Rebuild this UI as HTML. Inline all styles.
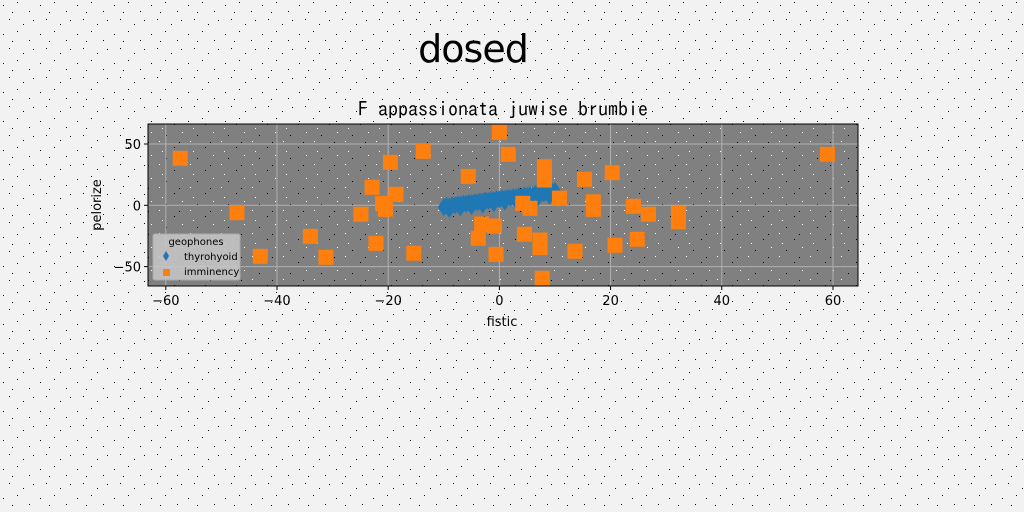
<!DOCTYPE html>
<html><head><meta charset="utf-8"><style>
body{margin:0;width:1024px;height:512px;background:#f2f2f2;overflow:hidden}
svg{display:block}
</style></head><body>
<svg id="chart" width="1024" height="512" xmlns="http://www.w3.org/2000/svg">
<defs>
<pattern id="noise" width="37" height="29" patternUnits="userSpaceOnUse">
<rect x="3" y="5" width="1" height="1" fill="#000"/><rect x="17" y="2" width="1" height="1" fill="#000"/><rect x="29" y="11" width="1" height="1" fill="#000"/><rect x="9" y="19" width="1" height="1" fill="#000"/><rect x="23" y="24" width="1" height="1" fill="#000"/><rect x="33" y="20" width="1" height="1" fill="#000"/><rect x="12" y="12" width="1" height="1" fill="#000"/>
</pattern>
<pattern id="noise2" width="31" height="23" patternUnits="userSpaceOnUse">
<rect x="4" y="3" width="1" height="1" fill="#fff"/><rect x="19" y="9" width="1" height="1" fill="#000"/><rect x="27" y="17" width="1" height="1" fill="#fff"/><rect x="11" y="20" width="1" height="1" fill="#000"/><rect x="24" y="4" width="1" height="1" fill="#000"/><rect x="7" y="13" width="1" height="1" fill="#fff"/>
</pattern>
</defs>
<rect width="1024" height="512" fill="url(#noise)"/>
<text x="473" y="62" font-size="38" text-anchor="middle" font-family="'DejaVu Sans', sans-serif" letter-spacing="-1">dosed</text>
<text x="503" y="116" font-size="20" text-anchor="middle" font-family="'IPAGothic','DejaVu Sans Mono',monospace">F appassionata juwise brumbie</text>
<g id="plot"></g>
</svg>
<script>
const sqX=[-57.4,-47.2,-43.0,-34.0,-31.2,-24.9,-22.9,-22.2,-21,-20.5,-19.6,-18.6,-15.4,-13.7,-5.6,-3.2,-3.8,-0.9,-0.6,0,1.6,8.1,8.1,4.2,5.5,10.8,15.3,20.3,16.9,16.9,24.1,26.8,32.2,32.2,59,4.5,7.3,7.3,13.6,20.8,24.8,7.7];
const sqY=[38.3,-6,-41.6,-25.3,-42.4,-7.3,14.7,-31.0,1.6,-3.3,35,9,-39.1,44,23.6,-15.2,-26.9,-16.9,-40,59.5,41.6,31.5,20.6,1.6,-2.4,5.9,21.2,26.6,2.9,-3.3,-0.8,-7.3,-6.5,-13.4,41.6,-23.6,-28.3,-34.5,-37.5,-32.6,-27.7,-59.5];
const dX=[-10,-9.5,-9,-8.5,-8,-7.5,-7,-6.5,-6,-5.5,-5,-4.5,-4,-3.5,-3,-2.5,-2,-1.5,-1,-0.5,0,0.5,1,1.5,2,2.5,3,3.5,4,4.5,5,5.5,6,6.5,7,7.5,8,8.5,9,9.5,10,-9,-7,-5,-3,-1,1,3,5,7,9];
const dY=[-1.5,-0.5,-1,0.2,0,0.8,0.6,1.5,1.2,2,1.8,2.6,2.4,3.2,3,3.8,3.6,4.4,4.2,5,4.8,5.6,5.4,6.2,6,6.8,6.6,7.4,7.2,8,7.8,8.6,8.4,9.2,9,9.8,9.6,10.6,10.4,11.4,11.8,-3,-1.8,-0.6,0.6,1.8,3,4.2,5.4,6.6,7.8];
const xTicks=[-60,-40,-20,0,20,40,60];
const yTicks=[-50,0,50];
const L=148,T=124,R=858,B=286;
const xmin=-63.2,xmax=64.5,ymin=-65.8,ymax=66.3;
const sx=v=>L+(v-xmin)/(xmax-xmin)*(R-L);
const sy=v=>B-(v-ymin)/(ymax-ymin)*(B-T);
const NS='http://www.w3.org/2000/svg';
const g=document.getElementById('plot');
function mk(t,a){const e=document.createElementNS(NS,t);for(const k in a)e.setAttribute(k,a[k]);g.appendChild(e);return e;}
let e=mk('rect',{x:L,y:T,width:R-L,height:B-T,fill:'#808080'});


e=mk('rect',{x:L,y:T,width:R-L,height:B-T,fill:'url(#noise2)'});


xTicks.forEach(t=>{const x=sx(t);
 e=mk('line',{x1:x,x2:x,y1:T,y2:B,stroke:'#b0b0b0','stroke-width':1});
 
 
 mk('line',{x1:x,x2:x,y1:B,y2:B+4,stroke:'#000'});
 e=mk('text',{x:x,y:B+19,'font-size':13,'text-anchor':'middle','font-family':'DejaVu Sans, sans-serif'});
 e.textContent=t<0?'\u2212'+(-t):t;
 
 
});
yTicks.forEach(t=>{const y=sy(t);
 e=mk('line',{x1:L,x2:R,y1:y,y2:y,stroke:'#b0b0b0','stroke-width':1});
 
 
 mk('line',{x1:L-4,x2:L,y1:y,y2:y,stroke:'#000'});
 e=mk('text',{x:L-7,y:y+5,'font-size':13,'text-anchor':'end','font-family':'DejaVu Sans, sans-serif'});
 e.textContent=t<0?'\u2212'+(-t):t;
 
 
});
dX.forEach((v,i)=>{const x=sx(v),y=sy(dY[i]);
 e=mk('polygon',{points:`${x},${y-9} ${x+6},${y} ${x},${y+9} ${x-6},${y}`,fill:'#1f77b4'});
 
 
});
sqX.forEach((v,i)=>{const x=sx(v),y=sy(sqY[i]);
 e=mk('rect',{x:x-7.5,y:y-7.5,width:15,height:15,fill:'#ff7f0e'});
 
 
});
e=mk('rect',{x:L,y:T,width:R-L,height:B-T,fill:'none',stroke:'#000','stroke-width':1});


e=mk('text',{x:502,y:326,'font-size':13,'text-anchor':'middle','font-family':'DejaVu Sans, sans-serif'});
e.textContent='fistic';


e=mk('text',{x:101,y:205,'font-size':13,'text-anchor':'middle','font-family':'DejaVu Sans, sans-serif',transform:'rotate(-90 101 205)'});
e.textContent='pelorize';


e=mk('rect',{x:153,y:234,width:87,height:46,rx:2,fill:'#c8c8c8','fill-opacity':0.85,stroke:'#aaa'});


e=mk('text',{x:196,y:245,'font-size':10,'text-anchor':'middle','font-family':'DejaVu Sans, sans-serif'});
e.textContent='geophones';


e=mk('polygon',{points:'166,251 169,256 166,261 163,256',fill:'#1f77b4'});


e=mk('text',{x:184,y:260,'font-size':10,'font-family':'DejaVu Sans, sans-serif'});
e.textContent='thyrohyoid';


e=mk('rect',{x:163,y:269,width:7,height:7,fill:'#ff7f0e'});


e=mk('text',{x:184,y:275,'font-size':10,'font-family':'DejaVu Sans, sans-serif'});
e.textContent='imminency';


</script>
</body></html>
